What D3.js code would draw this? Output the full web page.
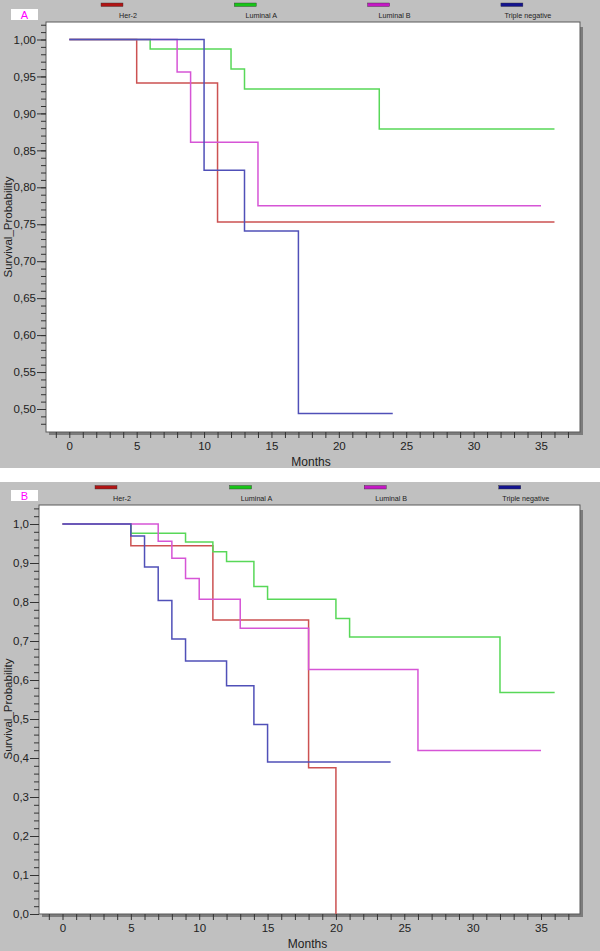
<!DOCTYPE html>
<html><head><meta charset="utf-8">
<script src="https://cdn.jsdelivr.net/npm/d3@7"></script>
<style>body{margin:0;background:#fff}svg{display:block;font-family:"Liberation Sans",Arial,sans-serif}</style>
</head><body>
<svg id="c" width="600" height="951"></svg>
<script>
// ---------- data ----------
const seriesNames = ["Her-2", "Luminal A", "Luminal B", "Triple negative"];
const lineColors = ["#cc5252", "#58d858", "#d655d6", "#5050b8"];
const legendColors = ["#b01414", "#18c418", "#c418c4", "#14148e"];

// Panel A: [month, survival probability]
const aHer2 = [[0,1],[5,0.941],[11,0.753],[36,0.753]];
const aLumA = [[0,1],[6,0.987],[12,0.960],[13,0.933],[23,0.879],[36,0.879]];
const aLumB = [[0,1],[8,0.956],[9,0.861],[14,0.775],[35,0.775]];
const aTN   = [[0,1],[10,0.823],[13,0.741],[17,0.494],[24,0.494]];

// Panel B
const bHer2 = [[0,1],[5,0.944],[11,0.754],[18,0.375],[20,0.0]];
const bLumA = [[0,1],[5,0.976],[9,0.954],[11,0.929],[12,0.904],[14,0.840],[15,0.807],[20,0.758],[21,0.710],[32,0.568],[36,0.568]];
const bLumB = [[0,1],[7,0.956],[8,0.912],[9,0.860],[10,0.807],[13,0.733],[18,0.627],[26,0.419],[35,0.419]];
const bTN   = [[0,1],[5,0.969],[6,0.890],[7,0.804],[8,0.705],[9,0.649],[12,0.585],[14,0.486],[15,0.390],[24,0.390]];

const xTickLabels = [0,5,10,15,20,25,30,35];
const aYTickLabels = [0.50,0.55,0.60,0.65,0.70,0.75,0.80,0.85,0.90,0.95,1.00];
const bYTickLabels = [0.0,0.1,0.2,0.3,0.4,0.5,0.6,0.7,0.8,0.9,1.0];

// ---------- drawing ----------
const svg = d3.select("#c");

function panel(cfg) {
  const g = svg.append("g");
  g.append("rect").attr("x",0).attr("y",cfg.top).attr("width",600).attr("height",cfg.bottom-cfg.top).attr("fill","#c0c0c0");

  // panel letter
  g.append("rect").attr("x",11).attr("y",cfg.letterY).attr("width",27).attr("height",11).attr("fill","#fff");
  g.append("text").attr("x",24.5).attr("y",cfg.letterY+9.5).attr("text-anchor","middle")
    .attr("font-size",11).attr("fill","#ff00ff").text(cfg.letter);

  // legend
  seriesNames.forEach((n,i)=>{
    const lx = cfg.legX + i*cfg.legStep;
    g.append("rect").attr("x",lx).attr("y",cfg.legLineY).attr("width",22).attr("height",3.5)
      .attr("fill",legendColors[i]).attr("stroke","#333").attr("stroke-width",0.4);
    g.append("text").attr("x",lx+11+16).attr("y",cfg.legTextY).attr("text-anchor","middle")
      .attr("font-size",7.2).attr("fill","#222").text(n);
  });

  const pl = cfg.plot;
  // shadow
  g.append("rect").attr("x",pl.l+3).attr("y",pl.t+5).attr("width",pl.r-pl.l).attr("height",pl.b-pl.t-2).attr("fill","#7c7c7c");
  g.append("rect").attr("x",pl.l).attr("y",pl.t).attr("width",pl.r-pl.l).attr("height",pl.b-pl.t)
    .attr("fill","#fff").attr("stroke","#5a5a5a").attr("stroke-width",1);

  const x = d3.scaleLinear().domain([0,35]).range(cfg.xRange);
  const y = d3.scaleLinear().domain(cfg.yDomain).range(cfg.yRange);

  // x axis
  const xa = d3.axisBottom(x).tickValues(d3.range(-1,38)).tickSize(6).tickFormat("");
  const xg = g.append("g").attr("transform",`translate(0,${pl.b})`).call(xa);
  xg.select(".domain").remove();
  xg.selectAll("line").attr("stroke","#333");
  const xl = d3.axisBottom(x).tickValues(xTickLabels).tickSize(0).tickPadding(10).tickFormat(d3.format("d"));
  const xlg = g.append("g").attr("transform",`translate(0,${pl.b})`).call(xl);
  xlg.select(".domain").remove();
  xlg.selectAll("text").attr("font-size",11.5).attr("fill","#222").attr("font-family",null);

  // y axis minor ticks
  const ya = d3.axisLeft(y).tickValues(cfg.yMinor).tickSize(5).tickFormat("");
  const yg = g.append("g").attr("transform",`translate(${pl.l},0)`).call(ya);
  yg.select(".domain").remove();
  yg.selectAll("line").attr("stroke","#333");
  const yl = d3.axisLeft(y).tickValues(cfg.yMajor).tickSize(9).tickPadding(1).tickFormat(cfg.fmt);
  const ylg = g.append("g").attr("transform",`translate(${pl.l},0)`).call(yl);
  ylg.select(".domain").remove();
  ylg.selectAll("line").attr("stroke","#333");
  ylg.selectAll("text").attr("font-size",11.5).attr("fill","#222").attr("font-family",null);

  // axis titles
  g.append("text").attr("x",(pl.l+pl.r)/2 - 2).attr("y",cfg.monthsY).attr("text-anchor","middle")
    .attr("font-size",12).attr("fill","#222").text("Months");
  g.append("text").attr("transform",`translate(12,${cfg.yTitleY}) rotate(-90)`).attr("text-anchor","middle")
    .attr("font-size",11.5).attr("fill","#222").text("Survival_Probability");

  // curves
  const line = d3.line().x(d=>x(d[0])).y(d=>y(d[1])).curve(d3.curveStepAfter);
  cfg.series.forEach((s,i)=>{
    g.append("path").datum(s).attr("d",line).attr("fill","none")
      .attr("stroke",lineColors[i]).attr("stroke-width",1.5);
  });
}

function fmtComma(dec){ return d => d.toFixed(dec).replace(".", ","); }

panel({
  top:0, bottom:468, letter:"A", letterY:9,
  legX:101, legStep:133.3, legLineY:3, legTextY:18,
  plot:{l:46, r:580, t:22, b:432},
  xRange:[69.3, 541],
  yDomain:[0.5, 1.0], yRange:[409, 39.5],
  yMinor:d3.range(48,103).map(v=>v/100),
  yMajor:aYTickLabels, fmt:fmtComma(2),
  monthsY:466, yTitleY:227,
  series:[aHer2, aLumA, aLumB, aTN]
});

svg.append("rect").attr("x",0).attr("y",468).attr("width",600).attr("height",14).attr("fill","#fff");

panel({
  top:482, bottom:951, letter:"B", letterY:490,
  legX:95, legStep:134.6, legLineY:485.5, legTextY:500.5,
  plot:{l:39, r:580, t:505, b:914},
  xRange:[62.5, 541],
  yDomain:[0, 1.0], yRange:[914, 524],
  yMinor:d3.range(0,53).map(v=>v/50),
  yMajor:bYTickLabels, fmt:fmtComma(1),
  monthsY:948, yTitleY:709,
  series:[bHer2, bLumA, bLumB, bTN]
});
</script>
</body></html>
